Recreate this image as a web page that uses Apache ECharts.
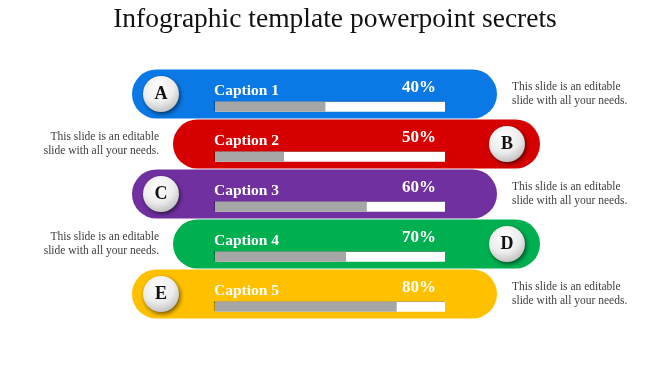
<!DOCTYPE html>
<html>
<head>
<meta charset="utf-8">
<script src="https://cdn.jsdelivr.net/npm/echarts@6/dist/echarts.min.js"></script>
<style>
html,body{margin:0;padding:0;background:#fff;}
#chart{width:670px;height:376px;}
</style>
</head>
<body>
<div id="chart"></div>
<script>
// ---- data ----
var categories = ['Caption 1', 'Caption 2', 'Caption 3', 'Caption 4', 'Caption 5'];
var percentValues = [40, 50, 60, 70, 80];
var fillValues = [48, 30, 66, 57, 79];
var letters = ['A', 'B', 'C', 'D', 'E'];
var descriptions = [
  'This slide is an editable\nslide with all your needs.',
  'This slide is an editable\nslide with all your needs.',
  'This slide is an editable\nslide with all your needs.',
  'This slide is an editable\nslide with all your needs.',
  'This slide is an editable\nslide with all your needs.'
];
var titleText = 'Infographic template powerpoint secrets';
var trackMax = 100;

// ---- styles ----
var pillColors = ['#0a79e6', '#d60000', '#7030a0', '#00b050', '#ffc000'];
var serif = '"Liberation Serif", "DejaVu Serif", serif';

var chart = echarts.init(document.getElementById('chart'), null, {renderer: 'canvas'});

var circleFill = new echarts.graphic.RadialGradient(0.42, 0.3, 0.8, [
  {offset: 0, color: '#ffffff'},
  {offset: 0.55, color: '#ececec'},
  {offset: 1, color: '#b4b4b4'}
]);

function renderRow(params, api) {
  var i = params.dataIndex;
  var p0 = api.coord([0, i]);
  var p1 = api.coord([trackMax, i]);
  var x0 = p0[0], x1 = p1[0], cy = p0[1];
  var leftSide = (i % 2 === 0);
  var pc = cy - 12.8;
  var ph = 49;
  var pl = leftSide ? x0 - 83 : x0 - 42;
  var pr = leftSide ? x1 + 52 : x1 + 95;
  var cx = leftSide ? x0 - 54 : x1 + 62;
  return {
    type: 'group',
    children: [
      {type: 'rect', shape: {x: pl, y: pc - ph / 2, width: pr - pl, height: ph, r: ph / 2},
       style: {fill: pillColors[i]}},
      {type: 'circle', shape: {cx: cx, cy: pc, r: 18},
       style: {fill: circleFill, shadowColor: 'rgba(0,0,0,0.55)', shadowBlur: 4, shadowOffsetX: 1.5, shadowOffsetY: 2}},
      {type: 'text', style: {text: letters[i], x: cx, y: pc, align: 'center', verticalAlign: 'middle',
        fontSize: 18, fontWeight: 'bold', fontFamily: serif, fill: '#111111'}},
      {type: 'text', style: {text: categories[i], x: x0 - 1, y: cy - 16, align: 'left', verticalAlign: 'middle',
        fontSize: 15.5, fontWeight: 'bold', fontFamily: serif, fill: '#ffffff'}},
      {type: 'text', style: {text: percentValues[i] + '%', x: x1 - 9, y: cy - 19, align: 'right', verticalAlign: 'middle',
        fontSize: 17, fontWeight: 'bold', fontFamily: serif, fill: '#ffffff'}},
      {type: 'text', style: {text: descriptions[i], x: leftSide ? x1 + 67 : x0 - 56, y: cy - 12.6,
        align: leftSide ? 'left' : 'right', verticalAlign: 'middle', lineHeight: 13.5,
        fontSize: 11.5, fontFamily: serif, fill: '#404040'}}
    ]
  };
}

var option = {
  animation: false,
  backgroundColor: '#ffffff',
  graphic: [
    {type: 'text', x: 335, y: 20, style: {text: titleText, align: 'center', verticalAlign: 'middle',
      fontSize: 27.5, fontFamily: serif, fill: '#111111'}}
  ],
  grid: {left: 215, width: 230, top: 81.8, height: 250},
  xAxis: {type: 'value', min: 0, max: trackMax, show: false},
  yAxis: {type: 'category', data: categories, inverse: true, show: false},
  series: [
    {
      type: 'custom', z: 1, clip: false, silent: true,
      renderItem: renderRow,
      encode: {x: 0, y: 1},
      data: categories.map(function (c, i) { return [trackMax, i]; })
    },
    {
      type: 'bar', z: 2, silent: true, barWidth: 10, barGap: '-100%',
      itemStyle: {color: '#ffffff', shadowColor: 'rgba(0,0,0,0.55)', shadowOffsetX: -1, shadowOffsetY: -1, shadowBlur: 1},
      data: categories.map(function () { return trackMax; })
    },
    {
      type: 'bar', z: 3, silent: true, barWidth: 10, barGap: '-100%',
      itemStyle: {color: '#a6a6a6'},
      data: fillValues
    }
  ]
};
chart.setOption(option);
</script>
</body>
</html>
